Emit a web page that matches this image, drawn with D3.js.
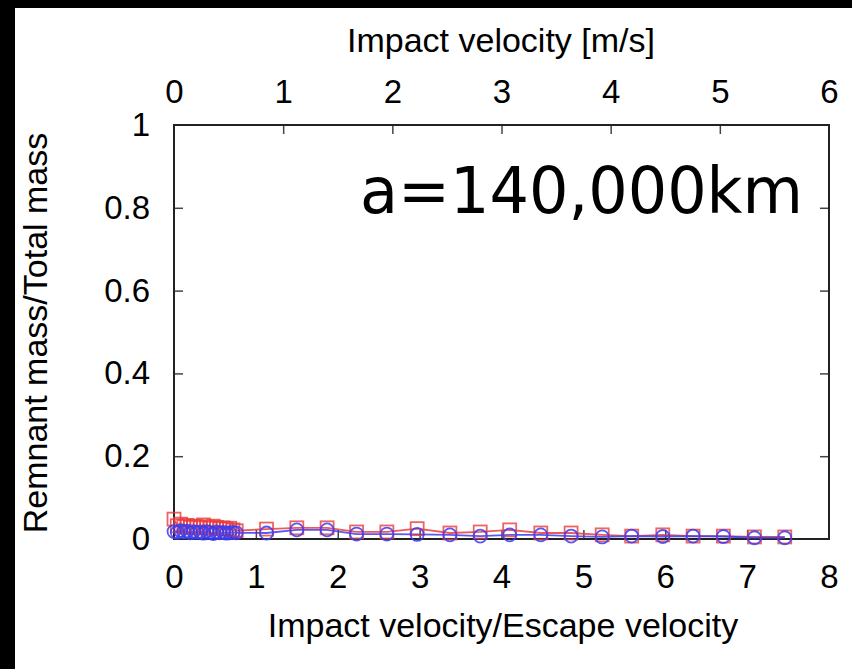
<!DOCTYPE html>
<html><head><meta charset="utf-8">
<script src="https://cdn.jsdelivr.net/npm/d3@7"></script>
<style>body{margin:0;background:#000;}svg{display:block;}</style>
</head><body>
<script>
// ---- data ----
const ratioVel = [0,0.04,0.08,0.12,0.16,0.2,0.24,0.28,0.32,0.36,0.4,0.44,0.48,0.52,0.56,0.6,0.64,0.68,0.72,0.76,
  1.13,1.50,1.87,2.23,2.60,2.97,3.37,3.74,4.10,4.48,4.85,5.23,5.59,5.97,6.34,6.71,7.09,7.46];
const redMass = [0.048,0.032,0.036,0.030,0.033,0.028,0.031,0.030,0.027,0.034,0.029,0.026,0.031,0.028,0.025,0.027,0.024,0.026,0.022,0.020,
  0.024,0.027,0.027,0.017,0.017,0.025,0.0145,0.017,0.022,0.0145,0.0145,0.010,0.007,0.010,0.007,0.007,0.005,0.005];
const blueMass = [0.018,0.016,0.020,0.017,0.019,0.015,0.018,0.016,0.017,0.014,0.018,0.016,0.013,0.017,0.015,0.016,0.014,0.015,0.016,0.015,
  0.0145,0.022,0.022,0.012,0.012,0.011,0.010,0.007,0.010,0.010,0.007,0.005,0.007,0.006,0.007,0.006,0.003,0.003];
const bottomTicks = [0,1,2,3,4,5,6,7,8];
const topTicks = [0,1,2,3,4,5,6];
const yTicks = [0,0.2,0.4,0.6,0.8,1];
const xTitle = "Impact velocity/Escape velocity";
const topTitle = "Impact velocity [m/s]";
const yTitle = "Remnant mass/Total mass";
const annotation = "a=140,000km";

const W = 852, H = 669;
const L = 174, R = 829, T = 125, B = 539;
const svg = d3.select("body").append("svg").attr("width", W).attr("height", H);
svg.append("rect").attr("x",15).attr("y",8).attr("width",W-15).attr("height",H-8).attr("fill","#fff");

const x = d3.scaleLinear().domain([0,8]).range([L,R]);
const xTop = d3.scaleLinear().domain([0,6]).range([L,R]);
const y = d3.scaleLinear().domain([0,1]).range([B,T]);

const font = "'Liberation Sans', Arial, Helvetica, sans-serif";
const tickLen = 9;

// axes with inward ticks
const gB = svg.append("g").attr("transform",`translate(0,${B})`)
  .call(d3.axisBottom(x).tickValues(bottomTicks).tickFormat(d3.format("d")).tickSizeInner(-tickLen).tickSizeOuter(0).tickPadding(26));
const gT = svg.append("g").attr("transform",`translate(0,${T})`)
  .call(d3.axisTop(xTop).tickValues(topTicks).tickFormat(d3.format("d")).tickSizeInner(-tickLen).tickSizeOuter(0).tickPadding(22));
const gL = svg.append("g").attr("transform",`translate(${L},0)`)
  .call(d3.axisLeft(y).tickValues(yTicks).tickFormat(d => d===0||d===1 ? d3.format("d")(d) : d3.format(".1f")(d)).tickSizeInner(-tickLen).tickSizeOuter(0).tickPadding(24));
const gR = svg.append("g").attr("transform",`translate(${R},0)`)
  .call(d3.axisRight(y).tickValues(yTicks).tickFormat("").tickSizeInner(-tickLen).tickSizeOuter(0));
[gB,gT,gL,gR].forEach(g => {
  g.select(".domain").remove();
  g.selectAll(".tick line").attr("stroke","#444").attr("stroke-width",1.5);
  g.selectAll("text").attr("font-family",font).attr("font-size",33).attr("fill","#000");
});
gR.selectAll(".tick").filter(d => d===0||d===1).remove();
gL.selectAll(".tick line").filter(d => d===0||d===1).remove();
gB.selectAll(".tick line").filter(d => d===0||d===8).remove();
gT.selectAll(".tick line").filter(d => d===0||d===6).remove();

// frame
svg.append("rect").attr("x",L).attr("y",T).attr("width",R-L).attr("height",B-T)
  .attr("fill","none").attr("stroke","#222").attr("stroke-width",2);

// titles
svg.append("text").attr("x",501).attr("y",52).attr("text-anchor","middle")
  .attr("font-family",font).attr("font-size",34).text(topTitle);
svg.append("text").attr("x",503).attr("y",637).attr("text-anchor","middle")
  .attr("font-family",font).attr("font-size",34).text(xTitle);
svg.append("text").attr("transform",`translate(47,333) rotate(-90)`).attr("text-anchor","middle")
  .attr("font-family",font).attr("font-size",34).text(yTitle);

// annotation
svg.append("text").attr("x",360).attr("y",213).attr("font-family","'Comic Sans MS','DejaVu Sans',sans-serif")
  .attr("font-size",64).attr("textLength",443).attr("lengthAdjust","spacingAndGlyphs").text(annotation);

// data
const pts = ratioVel.map((v,i)=>({v, r:redMass[i], b:blueMass[i]}));
const g = svg.append("g");
g.append("path").datum(pts).attr("fill","none").attr("stroke","rgba(235,60,60,0.85)").attr("stroke-width",1.8)
  .attr("d", d3.line().x(d=>x(d.v)).y(d=>y(d.r)));
g.append("path").datum(pts).attr("fill","none").attr("stroke","rgba(60,60,240,0.85)").attr("stroke-width",1.8)
  .attr("d", d3.line().x(d=>x(d.v)).y(d=>y(d.b)));
const s = 13;
g.selectAll("rect.red").data(pts).join("rect").attr("class","red")
  .attr("x",d=>x(d.v)-s/2).attr("y",d=>y(d.r)-s/2).attr("width",s).attr("height",s)
  .attr("fill","none").attr("stroke","rgba(235,60,60,0.8)").attr("stroke-width",1.8);
g.selectAll("circle.blue").data(pts).join("circle").attr("class","blue")
  .attr("cx",d=>x(d.v)).attr("cy",d=>y(d.b)).attr("r",6.5)
  .attr("fill","none").attr("stroke","rgba(60,60,240,0.85)").attr("stroke-width",1.8);
</script>
</body></html>
